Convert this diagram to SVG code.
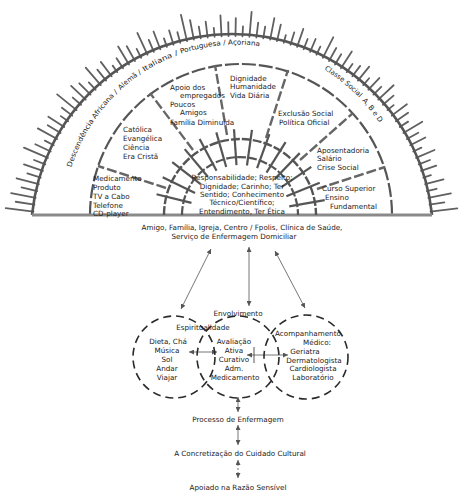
<svg xmlns="http://www.w3.org/2000/svg" width="462" height="493" viewBox="0 0 462 493">
<defs>
<style>
.t{font-family:"DejaVu Sans","Liberation Sans",sans-serif;font-size:7.2px;fill:#222}
.b{font-size:7px}
.c{text-anchor:middle}
.sp line{stroke:#606060;stroke-width:1.8;stroke-linecap:round}
.tk line{stroke:#555;stroke-width:2.2}
.spoke{stroke:#666;stroke-width:2.4;fill:none;stroke-dasharray:10 3}
.arc{fill:none;stroke:#555}
.ar{stroke:#666;stroke-width:0.9;fill:none;marker-start:url(#ah);marker-end:url(#ah)}
.circ{fill:none;stroke:#2a2a2a;stroke-width:1.6;stroke-dasharray:8 5}
</style>
<marker id="ah" viewBox="0 0 6 6" refX="6" refY="3" markerWidth="5" markerHeight="5" orient="auto-start-reverse" markerUnits="userSpaceOnUse"><path d="M0,0 L6,3 L0,6 z" fill="#555"/></marker>
<path id="band" d="M62.5,224 A173.5 179.5 0 0 1 409.5,224"/>
</defs>
<rect width="462" height="493" fill="#fff"/>

<g id="sunrise">
<g class="sp" transform="translate(232,236)">
<line x1="200" x2="227" transform="rotate(-7)"/><line x1="200" x2="215" transform="rotate(-9)"/><line x1="200" x2="223" transform="rotate(-11)"/><line x1="200" x2="210" transform="rotate(-13)"/><line x1="200" x2="219" transform="rotate(-15)"/><line x1="200" x2="208" transform="rotate(-17)"/><line x1="200" x2="216" transform="rotate(-19)"/><line x1="200" x2="212" transform="rotate(-21)"/><line x1="200" x2="220" transform="rotate(-23)"/><line x1="200" x2="209" transform="rotate(-25)"/><line x1="200" x2="217" transform="rotate(-27)"/><line x1="200" x2="213" transform="rotate(-29)"/><line x1="200" x2="222" transform="rotate(-31)"/><line x1="200" x2="210" transform="rotate(-33)"/><line x1="200" x2="215" transform="rotate(-35)"/><line x1="200" x2="219" transform="rotate(-37)"/><line x1="200" x2="208" transform="rotate(-39)"/><line x1="200" x2="214" transform="rotate(-41)"/><line x1="200" x2="221" transform="rotate(-43)"/><line x1="200" x2="211" transform="rotate(-45)"/><line x1="200" x2="216" transform="rotate(-47)"/><line x1="200" x2="209" transform="rotate(-49)"/><line x1="200" x2="218" transform="rotate(-51)"/><line x1="200" x2="213" transform="rotate(-53)"/><line x1="200" x2="210" transform="rotate(-55)"/><line x1="200" x2="220" transform="rotate(-57)"/><line x1="200" x2="212" transform="rotate(-59)"/><line x1="200" x2="215" transform="rotate(-61)"/><line x1="200" x2="223" transform="rotate(-63)"/><line x1="200" x2="209" transform="rotate(-65)"/><line x1="200" x2="214" transform="rotate(-67)"/><line x1="200" x2="211" transform="rotate(-69)"/><line x1="200" x2="219" transform="rotate(-71)"/><line x1="200" x2="213" transform="rotate(-73)"/><line x1="200" x2="208" transform="rotate(-75)"/><line x1="200" x2="217" transform="rotate(-77)"/><line x1="200" x2="222" transform="rotate(-79)"/><line x1="200" x2="212" transform="rotate(-81)"/><line x1="200" x2="215" transform="rotate(-83)"/><line x1="200" x2="225" transform="rotate(-85)"/><line x1="200" x2="210" transform="rotate(-87)"/><line x1="200" x2="218" transform="rotate(-89)"/><line x1="200" x2="214" transform="rotate(-91)"/><line x1="200" x2="221" transform="rotate(-93)"/><line x1="200" x2="209" transform="rotate(-95)"/><line x1="200" x2="216" transform="rotate(-97)"/><line x1="200" x2="212" transform="rotate(-99)"/><line x1="200" x2="220" transform="rotate(-101)"/><line x1="200" x2="227" transform="rotate(-103)"/><line x1="200" x2="211" transform="rotate(-105)"/><line x1="200" x2="215" transform="rotate(-107)"/><line x1="200" x2="209" transform="rotate(-109)"/><line x1="200" x2="219" transform="rotate(-111)"/><line x1="200" x2="213" transform="rotate(-113)"/><line x1="200" x2="224" transform="rotate(-115)"/><line x1="200" x2="210" transform="rotate(-117)"/><line x1="200" x2="217" transform="rotate(-119)"/><line x1="200" x2="221" transform="rotate(-121)"/><line x1="200" x2="212" transform="rotate(-123)"/><line x1="200" x2="208" transform="rotate(-125)"/><line x1="200" x2="218" transform="rotate(-127)"/><line x1="200" x2="214" transform="rotate(-129)"/><line x1="200" x2="223" transform="rotate(-131)"/><line x1="200" x2="210" transform="rotate(-133)"/><line x1="200" x2="216" transform="rotate(-135)"/><line x1="200" x2="220" transform="rotate(-137)"/><line x1="200" x2="211" transform="rotate(-139)"/><line x1="200" x2="225" transform="rotate(-141)"/><line x1="200" x2="213" transform="rotate(-143)"/><line x1="200" x2="209" transform="rotate(-145)"/><line x1="200" x2="219" transform="rotate(-147)"/><line x1="200" x2="215" transform="rotate(-149)"/><line x1="200" x2="222" transform="rotate(-151)"/><line x1="200" x2="210" transform="rotate(-153)"/><line x1="200" x2="217" transform="rotate(-155)"/><line x1="200" x2="226" transform="rotate(-157)"/><line x1="200" x2="212" transform="rotate(-159)"/><line x1="200" x2="220" transform="rotate(-161)"/><line x1="200" x2="214" transform="rotate(-163)"/><line x1="200" x2="223" transform="rotate(-165)"/><line x1="200" x2="216" transform="rotate(-167)"/><line x1="200" x2="225" transform="rotate(-169)"/><line x1="200" x2="219" transform="rotate(-171)"/><line x1="200" x2="228" transform="rotate(-173)"/>
</g>
<path class="arc" stroke-width="2.6" d="M32,215 A201 201 0 0 1 432,215"/>
<path class="arc" stroke-width="2.2" stroke="#666" stroke-dasharray="14 3" d="M90,215 A151 151 0 0 1 392,215"/>
<path d="M32,215 H432" stroke="#8a8a8a" stroke-width="3"/>
</g>

<g id="band-text">
<text class="t b"><textPath href="#band" startOffset="57.5" textLength="89" lengthAdjust="spacingAndGlyphs">Descendência Africana /</textPath></text>
<text class="t b"><textPath href="#band" startOffset="150" textLength="27" lengthAdjust="spacingAndGlyphs">Alemã /</textPath></text>
<text class="t b"><textPath href="#band" startOffset="180" textLength="38" lengthAdjust="spacingAndGlyphs">Italiana /</textPath></text>
<text class="t b"><textPath href="#band" startOffset="221" textLength="80" lengthAdjust="spacingAndGlyphs">Portuguesa / Açoriana</textPath></text>
<text class="t b"><textPath href="#band" startOffset="370" textLength="45" lengthAdjust="spacingAndGlyphs">Classe Social</textPath></text>
<text class="t b"><textPath href="#band" startOffset="419" textLength="28" lengthAdjust="spacingAndGlyphs">A, B e D</textPath></text>
</g>

<g id="connectors">
<line class="spoke" x1="166" y1="188" x2="98" y2="166"/>
<line class="spoke" x1="193" y1="150" x2="150" y2="93"/>
<line class="spoke" x1="227" y1="135" x2="215" y2="65"/>
<line class="spoke" x1="266" y1="138" x2="288" y2="70"/>
<line class="spoke" x1="300" y1="160" x2="353" y2="113"/>
<line class="spoke" x1="317" y1="189" x2="385" y2="167"/>
<line class="ar" x1="211" y1="249" x2="181" y2="309"/>
<line class="ar" x1="249" y1="247" x2="249" y2="306"/>
<line class="ar" x1="275" y1="251" x2="305" y2="308"/>
<line class="ar" x1="189" y1="352" x2="217" y2="352"/>
<line class="ar" x1="247" y1="355" x2="288" y2="355"/>
<line x1="254" y1="347" x2="254" y2="363" stroke="#555" stroke-width="1"/>
<line class="ar" x1="238" y1="397" x2="238" y2="412"/>
<line class="ar" x1="238" y1="425" x2="238" y2="445"/>
<line class="ar" x1="238" y1="460" x2="238" y2="478" stroke-dasharray="2 2"/>
</g>

<g id="core">
<path class="arc" stroke-width="2.4" stroke-dasharray="9 2" d="M164,215 A76 76 0 0 1 316,215"/>
<path class="arc" stroke-width="2.2" stroke-dasharray="9 2" d="M182,215 A58 58 0 0 1 298,215"/>
<g class="tk" transform="translate(240,215)">
<line x1="50" x2="86" transform="rotate(-10)"/><line x1="50" x2="86" transform="rotate(-22)"/><line x1="50" x2="86" transform="rotate(-34)"/><line x1="50" x2="86" transform="rotate(-46)"/><line x1="50" x2="86" transform="rotate(-58)"/><line x1="50" x2="86" transform="rotate(-70)"/><line x1="50" x2="86" transform="rotate(-82)"/><line x1="50" x2="86" transform="rotate(-94)"/><line x1="50" x2="86" transform="rotate(-106)"/><line x1="50" x2="86" transform="rotate(-118)"/><line x1="50" x2="86" transform="rotate(-130)"/><line x1="50" x2="86" transform="rotate(-142)"/><line x1="50" x2="86" transform="rotate(-154)"/><line x1="50" x2="86" transform="rotate(-166)"/>
</g>
<text class="t c" x="242" y="179.5">Responsabilidade; Respeito;</text>
<text class="t c" x="242" y="188.5">Dignidade; Carinho; Ter</text>
<text class="t c" x="242" y="196.5">Sentido; Conhecimento</text>
<text class="t c" x="242" y="205">Técnico/Científico;</text>
<text class="t c" x="242" y="213.5">Entendimento, Ter Ética</text>
</g>

<g id="s-medicamento">
<text class="t" x="93" y="180.5">Medicamento</text>
<text class="t" x="93" y="189.5">Produto</text>
<text class="t" x="93" y="198.5">TV a Cabo</text>
<text class="t" x="93" y="207.5">Telefone</text>
<text class="t" x="93" y="215.5">CD-player</text>
</g>
<g id="s-religiao">
<text class="t" x="123" y="131.5">Católica</text>
<text class="t" x="123" y="141">Evangélica</text>
<text class="t" x="123" y="149.5">Ciência</text>
<text class="t" x="123" y="158.5">Era Cristã</text>
</g>
<g id="s-apoio">
<text class="t" x="170" y="89.5">Apoio dos</text>
<text class="t" x="180" y="98">empregados</text>
<text class="t" x="170" y="106.5">Poucos</text>
<text class="t" x="180" y="115">Amigos</text>
<text class="t" x="170" y="124.5">Família Diminuída</text>
</g>
<g id="s-dignidade">
<text class="t" x="230" y="80.5">Dignidade</text>
<text class="t" x="230" y="89">Humanidade</text>
<text class="t" x="230" y="97.5">Vida Diária</text>
</g>
<g id="s-exclusao">
<text class="t" x="278" y="115.5">Exclusão Social</text>
<text class="t" x="279" y="125">Política Oficial</text>
</g>
<g id="s-aposentadoria">
<text class="t" x="317" y="152.5">Aposentadoria</text>
<text class="t" x="317" y="161">Salário</text>
<text class="t" x="317" y="169.5">Crise Social</text>
</g>
<g id="s-curso">
<text class="t" x="322" y="190.5">Curso Superior</text>
<text class="t" x="325" y="199.5">Ensino</text>
<text class="t" x="330" y="209">Fundamental</text>
</g>

<g id="rede">
<text class="t c" x="242" y="230">Amigo, Família, Igreja, Centro / Fpolis, Clínica de Saúde,</text>
<text class="t c" x="234" y="239">Serviço de Enfermagem Domiciliar</text>
</g>

<g id="c-esquerdo">
<circle class="circ" cx="174" cy="357" r="41"/>
<text class="t c" x="168" y="344">Dieta, Chá</text>
<text class="t c" x="167" y="353">Música</text>
<text class="t c" x="167" y="362">Sol</text>
<text class="t c" x="167" y="371">Andar</text>
<text class="t c" x="167" y="380">Viajar</text>
</g>
<g id="c-centro">
<circle class="circ" cx="238" cy="357" r="41"/>
<text class="t c" x="238" y="316">Envolvimento</text>
<text class="t c" x="203" y="330">Espiritualidade</text>
<text class="t c" x="234" y="344">Avaliação</text>
<text class="t c" x="234" y="353">Ativa</text>
<text class="t c" x="234" y="362">Curativo</text>
<text class="t c" x="234" y="371">Adm.</text>
<text class="t c" x="235" y="380">Medicamento</text>
</g>
<g id="c-direito">
<circle class="circ" cx="306" cy="357" r="42"/>
<text class="t c" x="308" y="336">Acompanhamento</text>
<text class="t c" x="317" y="345">Médico:</text>
<text class="t c" x="305" y="354">Geriatra</text>
<text class="t c" x="314" y="362.5">Dermatologista</text>
<text class="t c" x="313" y="371">Cardiologista</text>
<text class="t c" x="313" y="380">Laboratório</text>
</g>

<g id="processo"><text class="t c" x="238" y="422">Processo de Enfermagem</text></g>
<g id="concretizacao"><text class="t c" x="240" y="456">A Concretização do Cuidado Cultural</text></g>
<g id="apoiado"><text class="t c" x="238" y="490">Apoiado na Razão Sensível</text></g>
</svg>
